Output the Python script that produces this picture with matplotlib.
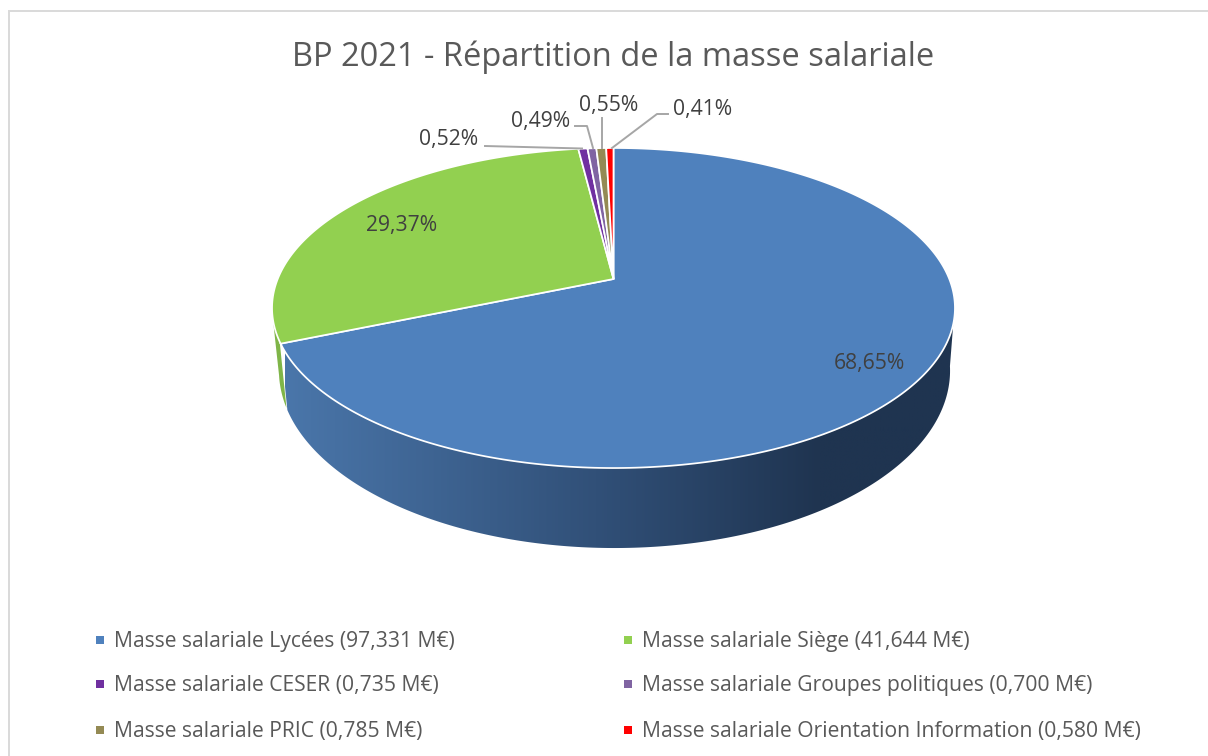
import numpy as np
import matplotlib
matplotlib.use("Agg")
import matplotlib.pyplot as plt
from matplotlib.colors import LinearSegmentedColormap
from matplotlib.patches import Polygon, Rectangle

title = "BP 2021 - Répartition de la masse salariale"
names = ["Lycées", "Siège", "CESER", "Groupes politiques", "PRIC", "Orientation Information"]
values = [97.331, 41.644, 0.735, 0.700, 0.785, 0.580]
value_labels = ["97,331", "41,644", "0,735", "0,700", "0,785", "0,580"]
pct_labels = ["68,65%", "29,37%", "0,52%", "0,49%", "0,55%", "0,41%"]
colors = ["#4f81bd", "#92d050", "#7030a0", "#8064a2", "#948a54", "#ff0000"]

plt.rcParams["font.family"] = ["Open Sans", "DejaVu Sans"]
TXT = "#595959"
LBL = "#404040"

# perspective of the top disc, angles clockwise from 12 o'clock
CX, CY = 613.5, 279
K, P, A = 0.18125, -104.2, 335.8
# rim of the bottom disc
CX2, P2, Q2, A2 = 614.5, -110.3, 338.4, 330


def top(theta):
    u, v = np.sin(theta), np.cos(theta)
    w = 1 + K * v
    return CX + A * u / w, (CY + P * v) / w


def bottom(theta):
    u, v = np.sin(theta), np.cos(theta)
    w = 1 + K * v
    return CX2 + A2 * u / w, (Q2 + P2 * v) / w


def side_poly(t0, t1):
    t = np.linspace(t0, t1, 200)
    x1, y1 = top(t)
    x2, y2 = bottom(t)
    return np.column_stack([np.r_[x1, x2[::-1]], np.r_[y1, y2[::-1]]])


fig = plt.figure(figsize=(12.08, 7.56), dpi=100)
ax = fig.add_axes([0, 0, 1, 1])
ax.set_xlim(0, 1208)
ax.set_ylim(756, 0)
ax.axis("off")

# chart frame
ax.plot([8.5, 8.5, 1208], [756, 10.5, 10.5], color="#d9d9d9", lw=1.4, solid_joinstyle="miter")

fracs = np.array(values) / sum(values)
edges = np.r_[0, np.cumsum(fracs)] * 2 * np.pi

# side walls
side_cmap = LinearSegmentedColormap.from_list(
    "side", [(0, "#4a76aa"), (0.5, "#2f4d74"), (0.8, "#1f3450"), (1, "#1f3450")])
blue_side = Polygon(side_poly(np.radians(99), edges[1]), closed=True, fc="none", ec="none", zorder=2)
ax.add_patch(blue_side)
im = ax.imshow(np.linspace(0, 1, 256)[None, :], extent=(285, 955, 560, 300), cmap=side_cmap,
               aspect="auto", zorder=2)
im.set_clip_path(blue_side)
ax.set_xlim(0, 1208)
ax.set_ylim(756, 0)
ax.add_patch(Polygon(side_poly(edges[1] + 0.012, np.radians(258)), closed=True,
                     fc="#7fb548", ec="none", zorder=2))

# top face
for i, c in enumerate(colors):
    t = np.linspace(edges[i], edges[i + 1], 300)
    x, y = top(t)
    ax.add_patch(Polygon(np.column_stack([np.r_[CX, x], np.r_[CY, y]]), closed=True,
                         fc=c, ec="white", lw=1.25, zorder=3))

# leader lines
leaders = [([485, 582], [146, 148.5]),
           ([575, 587, 593], [126, 126, 148]),
           ([602, 602], [118, 148]),
           ([668, 657, 612], [114, 114, 148])]
for lx, ly in leaders:
    ax.plot(lx, ly, color="#a6a6a6", lw=1.4, zorder=4)

# data labels
label_pos = [(869, 363), (402, 225), (448.5, 140), (540.5, 121), (609, 106), (702.5, 109)]
for s, (x, y) in zip(pct_labels, label_pos):
    ax.text(x, y, s, color=LBL, fontsize=15.2, ha="center", va="center", zorder=5)

ax.text(613.5, 57, title, color=TXT, fontsize=23.5, ha="center", va="center")

# legend, read row by row
leg_x = [100, 628]
leg_y = [642, 686, 732]
for i, (n, v, c) in enumerate(zip(names, value_labels, colors)):
    x, y = leg_x[i % 2], leg_y[i // 2]
    ax.add_patch(Rectangle((x - 4, y - 6.5), 8, 8, fc=c, ec="none"))
    ax.text(x + 14, y, f"Masse salariale {n} ({v} M€)", color=TXT, fontsize=15.2, ha="left", va="center")

fig.savefig("out.png", dpi=100)
